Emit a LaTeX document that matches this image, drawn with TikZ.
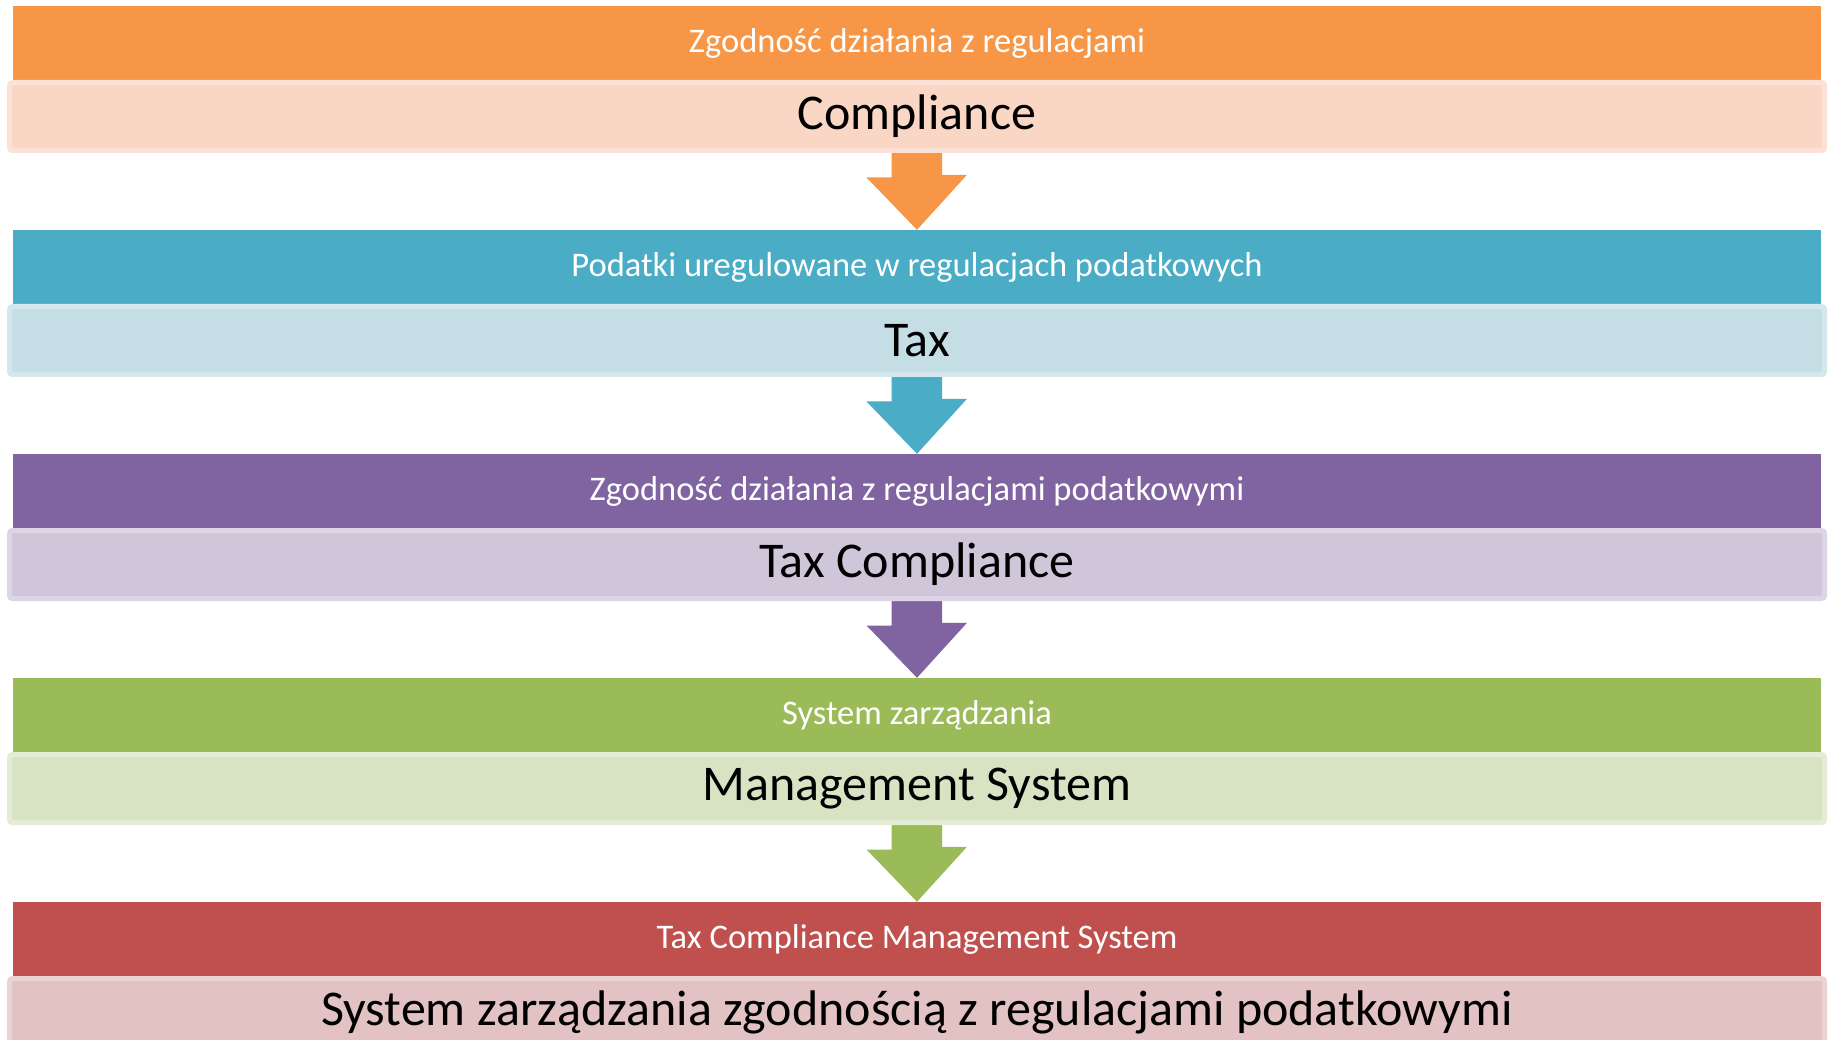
\documentclass[tikz,border=0pt]{standalone}
\usepackage{fontspec}
\setmainfont{Carlito}
\usetikzlibrary{backgrounds}
\definecolor{cO}{HTML}{F79646}\definecolor{lO}{HTML}{FAD6C4}\definecolor{bO}{HTML}{FCE2D6}
\definecolor{cB}{HTML}{4BACC6}\definecolor{lB}{HTML}{C5DEE6}\definecolor{bB}{HTML}{D3E7ED}
\definecolor{cP}{HTML}{8064A2}\definecolor{lP}{HTML}{CFC6DA}\definecolor{bP}{HTML}{DDD5E6}
\definecolor{cG}{HTML}{9BBB59}\definecolor{lG}{HTML}{D8E3C4}\definecolor{bG}{HTML}{E4ECD6}
\definecolor{cR}{HTML}{C0504D}\definecolor{lR}{HTML}{E2C2C2}\definecolor{bR}{HTML}{EAD3D3}
\tikzset{
  titleband/.style={rectangle, inner sep=0pt, minimum width=1808pt, minimum height=74pt,
    text=white, font=\fontsize{34.5}{40}\selectfont},
  mainband/.style={rectangle, inner sep=0pt, minimum width=1815pt, minimum height=68pt,
    line width=5pt, rounded corners=3pt, text=black, font=\fontsize{50}{60}\selectfont},
}
\newcommand{\downarrowshape}[3]{%
  \fill[#3] (#1.south) ++(-25.5,0) -- ++(0,24.5) -- ++(-25,0) -- (#2.north)
     -- ++(50,-55) -- ++(-25,0) -- ++(0,-24.5) -- cycle;}
\begin{document}
\begin{tikzpicture}[x=1pt,y=-1pt]
\useasboundingbox (0,0) rectangle (1829,1040);
% block 1
\node[titleband, fill=cO] (t1) at (917,43) {Zgodność działania z regulacjami};
\node[mainband, fill=lO, draw=bO] (m1) at (917,116.5) {Compliance};
% block 2
\node[titleband, fill=cB] (t2) at (917,267) {Podatki uregulowane w regulacjach podatkowych};
\node[mainband, fill=lB, draw=bB] (m2) at (917,340.5) {Tax};
% block 3
\node[titleband, fill=cP] (t3) at (917,491) {Zgodność działania z regulacjami podatkowymi};
\node[mainband, fill=lP, draw=bP] (m3) at (917,564.5) {Tax Compliance};
% block 4
\node[titleband, fill=cG] (t4) at (917,715) {System zarządzania};
\node[mainband, fill=lG, draw=bG] (m4) at (917,788.5) {Management System};
% block 5
\node[titleband, fill=cR] (t5) at (917,939) {Tax Compliance Management System};
\node[mainband, fill=lR, draw=bR] (m5) at (917,1012.5) {System zarządzania zgodnością z regulacjami podatkowymi};
\begin{scope}[on background layer]
\fill[white] (0,0) rectangle (1829,1040);
\downarrowshape{m1}{t2}{cO}
\downarrowshape{m2}{t3}{cB}
\downarrowshape{m3}{t4}{cP}
\downarrowshape{m4}{t5}{cG}
\end{scope}
\end{tikzpicture}
\end{document}
